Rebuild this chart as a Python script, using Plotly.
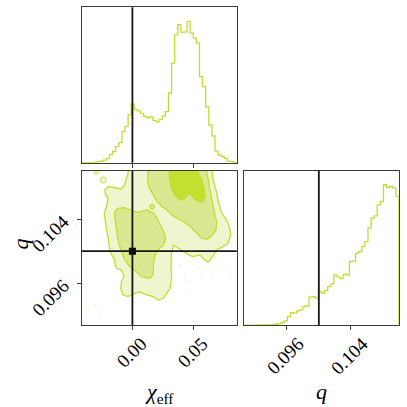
import numpy as np
import plotly.graph_objects as go

# truth values
chi_true = 0.0
q_true = 0.1

# axis ranges (from the corner plot)
chi_range = [-0.0416, 0.0854]
q_range = [0.09069, 0.10997]

# tick labels
chi_ticks = [0.0, 0.05]
chi_ticktext = ['0.00', '0.05']
q_ticks = [0.096, 0.104]
q_ticktext = ['0.096', '0.104']

# 1D histogram of chi_eff, 50 bins
chi_counts = [0, 0, 0, 0, 2, 3, 5, 8, 13, 24, 34, 48, 60, 93, 109, 143, 175, 159, 155, 148,
              139, 134, 137, 127, 122, 130, 140, 153, 208, 298, 383, 413, 390, 392, 423, 388,
              373, 358, 258, 228, 168, 113, 80, 35, 23, 18, 13, 5, 3, 1]

# 1D histogram of q, 50 bins
q_counts = [0, 0, 0, 0, 0, 0, 0.3, 0.3, 0.3, 0.7, 1, 1.7, 2.6, 4.3, 8.6, 12.6, 12, 14.3, 15.3,
            18.6, 19.3, 28, 28.6, 27, 33.6, 32, 34.6, 38.6, 41.3, 50.3, 48, 46.6, 51, 50, 63.6,
            64, 72, 73.6, 78.6, 83.6, 97, 107, 109.3, 120.3, 123.6, 140.3, 137.6, 138.6, 137, 128.6]

# 2D credible-region outlines (chi_eff, q)
outer_chi = [-0.0035, -0.0035, -0.0049, -0.0063, -0.0090, -0.0144, -0.0198, -0.0226, -0.0220,
             -0.0198, -0.0212, -0.0231, -0.0226, -0.0212, -0.0198, -0.0185, -0.0171, -0.0149,
             -0.0144, -0.0131, -0.0090, -0.0068, -0.0090, -0.0095, -0.0076, -0.0035, 0.0019,
             0.0060, 0.0106, 0.0169, 0.0212, 0.0253, 0.0280, 0.0308, 0.0321, 0.0316, 0.0321,
             0.0335, 0.0375, 0.0416, 0.0471, 0.0498, 0.0552, 0.0593, 0.0620, 0.0647, 0.0688,
             0.0743, 0.0783, 0.0805, 0.0797, 0.0773, 0.0732, 0.0704, 0.0685, 0.0661, 0.0645]
outer_q = [0.1110, 0.10978, 0.10915, 0.10831, 0.10781, 0.10798, 0.10811, 0.10768, 0.10705,
           0.10664, 0.10560, 0.10475, 0.10413, 0.10266, 0.10161, 0.10014, 0.09952, 0.09910,
           0.09847, 0.09785, 0.09763, 0.09693, 0.09618, 0.09533, 0.09449, 0.09429, 0.09471,
           0.09492, 0.09458, 0.09429, 0.09386, 0.09408, 0.09471, 0.09533, 0.09659, 0.09826,
           0.09994, 0.10077, 0.10036, 0.09994, 0.09944, 0.09932, 0.09952, 0.09889, 0.09860,
           0.09910, 0.10014, 0.10057, 0.10099, 0.10203, 0.10287, 0.10387, 0.10475, 0.10622,
           0.10764, 0.10890, 0.1110]

mid_a_chi = [0.0133, 0.0125, 0.0133, 0.0161, 0.0202, 0.0242, 0.0283, 0.0324, 0.0365, 0.0419,
             0.0473, 0.0528, 0.0569, 0.0615, 0.0655, 0.0685, 0.0690, 0.0670, 0.0652, 0.0638,
             0.0624, 0.0610, 0.0604]
mid_a_q = [0.1110, 0.10915, 0.10811, 0.10727, 0.10622, 0.10560, 0.10517, 0.10454, 0.10413,
           0.10371, 0.10308, 0.10224, 0.10161, 0.10153, 0.10203, 0.10266, 0.10371, 0.10497,
           0.10622, 0.10748, 0.10873, 0.10978, 0.1110]

mid_b_chi = [-0.0144, -0.0117, -0.0063, -0.0008, 0.0033, 0.0065, 0.0120, 0.0174, 0.0202,
             0.0228, 0.0255, 0.0273, 0.0255, 0.0220, 0.0192, 0.0175, 0.0171, 0.0169, 0.0141,
             0.0073, 0.0033, -0.0022, -0.0063, -0.0090, -0.0117, -0.0131, -0.0144, -0.0144]
mid_b_q = [0.10497, 0.10538, 0.10547, 0.10517, 0.10488, 0.10497, 0.10517, 0.10475, 0.10413,
           0.10328, 0.10246, 0.10161, 0.10077, 0.10029, 0.09973, 0.09885, 0.09785, 0.09700,
           0.09659, 0.09680, 0.09743, 0.09806, 0.09889, 0.09994, 0.10120, 0.10287, 0.10413,
           0.10497]

inner_chi = [0.0296, 0.0304, 0.0316, 0.0337, 0.0365, 0.0397, 0.0432, 0.0459, 0.0481, 0.0500,
             0.0541, 0.0582, 0.0595, 0.0587, 0.0569, 0.0541, 0.0528]
inner_q = [0.1110, 0.10915, 0.10811, 0.10727, 0.10673, 0.10642, 0.10664, 0.10727, 0.10714,
           0.10664, 0.10622, 0.10622, 0.10685, 0.10789, 0.10894, 0.10978, 0.1110]

# small isolated islands
outer_island_chi = [-0.0294, -0.0239]
outer_island_q = [0.10990, 0.10894]
mid_island_chi = [0.0161]
mid_island_q = [0.10560]

# stray samples outside the contours
pts_chi = [0.0389, 0.0430, 0.0484, 0.0539, 0.0565, 0.0647, 0.0688, 0.0797, 0.0805, 0.0457,
           0.0335, -0.0144, -0.0308, -0.0275]
pts_q = [0.09826, 0.09700, 0.09618, 0.09785, 0.09659, 0.09700, 0.09785, 0.09743, 0.09680,
         0.09492, 0.09555, 0.09826, 0.09324, 0.09236]

green = '#c3dc32'
fill_light = '#eef6cf'
fill_mid = '#d9e992'
fill_dark = '#c5df2f'
frame = '#3a3a3a'
font_fam = 'Liberation Serif'


def step_xy(counts, rng):
    edges = np.linspace(rng[0], rng[1], len(counts) + 1)
    xs = [edges[0]] + list(edges[:-1]) + [edges[-1]]
    ys = [0] + list(counts) + [0]
    return xs, ys


fig = go.Figure()

hx, hy = step_xy(chi_counts, chi_range)
fig.add_trace(go.Scatter(x=hx, y=hy, mode='lines', line=dict(color=green, width=1.3, shape='hv'),
                         xaxis='x', yaxis='y', hoverinfo='skip'))

qx, qy = step_xy(q_counts, q_range)
fig.add_trace(go.Scatter(x=qx, y=qy, mode='lines', line=dict(color=green, width=1.3, shape='hv'),
                         xaxis='x3', yaxis='y3', hoverinfo='skip'))

fig.add_trace(go.Scatter(x=pts_chi, y=pts_q, mode='markers',
                         marker=dict(color='#eef5c8', size=2), xaxis='x2', yaxis='y2'))

for cx, cy, fc in [(outer_chi, outer_q, fill_light), (mid_a_chi, mid_a_q, fill_mid),
                   (mid_b_chi, mid_b_q, fill_mid), (inner_chi, inner_q, fill_dark)]:
    fig.add_trace(go.Scatter(x=cx, y=cy, mode='lines', fill='toself', fillcolor=fc,
                             line=dict(color=green, width=1.3), xaxis='x2', yaxis='y2',
                             hoverinfo='skip'))

fig.add_trace(go.Scatter(x=outer_island_chi, y=outer_island_q, mode='markers',
                         marker=dict(color=fill_light, size=[4, 5.5], line=dict(color=green, width=1.2)),
                         xaxis='x2', yaxis='y2'))
fig.add_trace(go.Scatter(x=mid_island_chi, y=mid_island_q, mode='markers',
                         marker=dict(color=fill_mid, size=4.5, line=dict(color=green, width=1.2)),
                         xaxis='x2', yaxis='y2'))

# truth lines
line_k = dict(color='#151515', width=1.8)
fig.add_shape(type='line', xref='x', yref='y domain', x0=chi_true, x1=chi_true, y0=0, y1=1, line=line_k)
fig.add_shape(type='line', xref='x2', yref='y2 domain', x0=chi_true, x1=chi_true, y0=0, y1=1, line=line_k)
fig.add_shape(type='line', xref='x2 domain', yref='y2', x0=0, x1=1, y0=q_true, y1=q_true, line=line_k)
fig.add_shape(type='line', xref='x3', yref='y3 domain', x0=q_true, x1=q_true, y0=0, y1=1, line=line_k)
fig.add_trace(go.Scatter(x=[chi_true], y=[q_true], mode='markers',
                         marker=dict(symbol='square', color='black', size=7), xaxis='x2', yaxis='y2'))

ax_common = dict(showgrid=False, zeroline=False, showline=True, mirror=True, linecolor=frame,
                 linewidth=1, ticks='outside', ticklen=4, tickwidth=1, tickcolor=frame,
                 showticklabels=False, automargin=False)

left_col = [0.2005, 0.5816]
right_col = [0.5995, 0.9803]
top_row = [0.6002, 0.9821]
bot_row = [0.2009, 0.5806]

fig.update_layout(
    width=407, height=407, margin=dict(l=0, r=0, t=0, b=0),
    paper_bgcolor='white', plot_bgcolor='white', showlegend=False,
    xaxis=dict(ax_common, domain=left_col, range=chi_range, anchor='y', tickvals=chi_ticks),
    yaxis=dict(ax_common, domain=top_row, range=[0, 1.1 * max(chi_counts)], anchor='x', ticks=''),
    xaxis2=dict(ax_common, domain=left_col, range=chi_range, anchor='y2', tickvals=chi_ticks),
    yaxis2=dict(ax_common, domain=bot_row, range=[0.0907, 0.1101], anchor='x2', tickvals=q_ticks),
    xaxis3=dict(ax_common, domain=right_col, range=q_range, anchor='y3', tickvals=q_ticks),
    yaxis3=dict(ax_common, domain=bot_row, range=[0, 1.1 * max(q_counts)], anchor='x3', ticks=''),
)

# rotated tick labels, centred under / beside their ticks like matplotlib's
tick_font = dict(family=font_fam, size=19, color='black')
for v, t in zip(chi_ticks, chi_ticktext):
    fig.add_annotation(text=t, xref='x2', yref='paper', x=v, y=0.1339, xshift=-1, textangle=-45,
                       xanchor='center', yanchor='middle', showarrow=False, font=tick_font)
for v, t in zip(q_ticks, q_ticktext):
    fig.add_annotation(text=t, xref='x3', yref='paper', x=v, y=0.1258, xshift=-1, textangle=-45,
                       xanchor='center', yanchor='middle', showarrow=False, font=tick_font)
    fig.add_annotation(text=t, xref='paper', yref='y2', x=0.1248, y=v, yshift=-14.5, textangle=-45,
                       xanchor='center', yanchor='middle', showarrow=False, font=tick_font)

lab_font = dict(family=font_fam, size=22, color='black')
fig.add_annotation(text='<i>χ</i><sub>eff</sub>', xref='paper', yref='paper', x=0.3907, y=0.0344,
                   xanchor='center', yanchor='middle', showarrow=False, font=lab_font)
fig.add_annotation(text='<i>q</i>', xref='paper', yref='paper', x=0.0504, y=0.4005,
                   xanchor='center', yanchor='middle', showarrow=False, font=lab_font, textangle=-90)
fig.add_annotation(text='<i>q</i>', xref='paper', yref='paper', x=0.7887, y=0.0381,
                   xanchor='center', yanchor='middle', showarrow=False, font=lab_font)

fig.write_html('out.html', config={'displayModeBar': False},
               post_script="document.body.style.margin='0px';")
